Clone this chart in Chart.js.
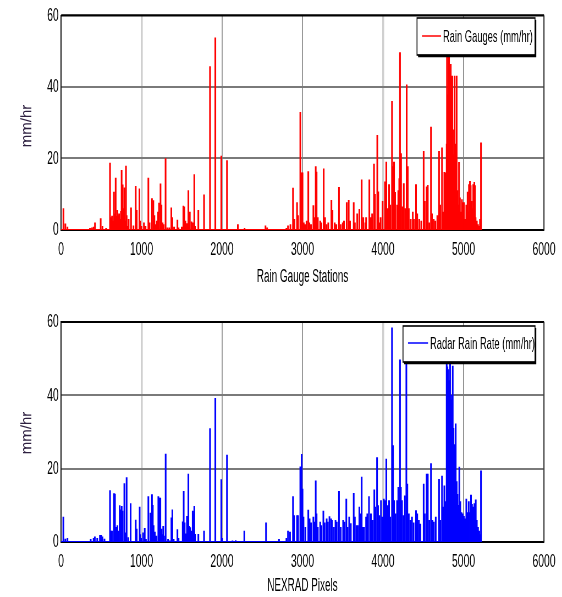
<!DOCTYPE html>
<html>
<head>
<meta charset="utf-8">
<script src="https://cdn.jsdelivr.net/npm/chart.js@4"></script>
<style>
  body { margin: 0; background: #fff; width: 562px; height: 597px; overflow: hidden; position: relative; }
  canvas { position: absolute; left: 0; }
</style>
</head>
<body>
<!-- canvases are drawn wide and squeezed by CSS, like the narrow text of the original figure -->
<canvas id="gaugeChart" width="1022" height="297" style="top:0px;width:562px;height:297px"></canvas>
<canvas id="radarChart" width="1022" height="300" style="top:297px;width:562px;height:300px"></canvas>
<script>
// ---- data ----
var xTicks = [0, 1000, 2000, 3000, 4000, 5000, 6000];
var yTicks = [0, 20, 40, 60];

// gauge record runs from station 0 to about 5230 (flat at zero between spikes)
var gaugeSpan = [0, 5230];
var gaugeStations = [
  30, 54, 80, 360, 385, 405, 422, 493, 515, 560,
  609, 625, 634, 645, 658, 668, 679, 690, 700, 712,
  722, 735, 745, 753, 766, 777, 787, 797, 807, 815,
  826, 840, 870, 900, 928, 940, 974, 985, 1000, 1030,
  1050, 1085, 1100, 1130, 1147, 1160, 1175, 1190, 1206, 1218,
  1236, 1248, 1262, 1275, 1299, 1320, 1345, 1370, 1383, 1405,
  1446, 1460, 1500, 1520, 1532, 1545, 1562, 1582, 1590, 1600,
  1620, 1636, 1656, 1665, 1706, 1777, 1851, 1917, 1991, 2062,
  2197, 2280, 2540, 2560, 2800, 2820, 2850, 2882, 2900, 2932,
  2945, 2973, 2990, 3000, 3015, 3030, 3050, 3072, 3085, 3105,
  3135, 3150, 3164, 3175, 3190, 3220, 3235, 3263, 3280, 3300,
  3320, 3359, 3372, 3400, 3420, 3453, 3475, 3500, 3515, 3549,
  3574, 3590, 3636, 3650, 3680, 3706, 3735, 3755, 3780, 3790,
  3830, 3850, 3865, 3888, 3900, 3929, 3941, 3955, 3970, 3995,
  4025, 4041, 4055, 4075, 4090, 4112, 4124, 4137, 4150, 4175,
  4190, 4202, 4211, 4224, 4240, 4258, 4275, 4294, 4307, 4320,
  4345, 4370, 4385, 4410, 4425, 4450, 4475, 4505, 4518, 4542,
  4556, 4575, 4596, 4608, 4630, 4650, 4675, 4696, 4710, 4733,
  4750, 4762, 4775, 4791, 4795, 4808, 4815, 4820, 4830, 4841,
  4850, 4861, 4870, 4878, 4890, 4895, 4903, 4915, 4925, 4935,
  4944, 4955, 4968, 4980, 4990, 5006, 5020, 5035, 5051, 5060,
  5068, 5080, 5089, 5100, 5110, 5121, 5134, 5143, 5150, 5165,
  5180, 5195, 5205, 5217
];
var gaugeRates = [
  6.0, 1.7, 0.8, 0.5, 0.6, 0.8, 2.0, 3.2, 1.0, 0.5,
  18.7, 3.5, 3.9, 2.5, 10.6, 4.5, 14.5, 3.8, 5.5, 4.0,
  4.5, 3.0, 5.2, 16.7, 12.6, 6.0, 11.8, 2.5, 17.9, 4.0,
  1.0, 3.0, 6.2, 1.2, 12.2, 5.5, 11.5, 2.5, 1.0, 2.0,
  1.0, 14.5, 2.0, 8.8, 8.2, 4.0, 1.5, 2.5, 5.0, 7.5,
  12.9, 7.0, 2.0, 1.5, 20.0, 0.6, 0.6, 6.2, 3.5, 0.8,
  2.8, 0.6, 0.8, 6.7, 6.5, 2.5, 1.8, 11.0, 4.5, 5.0,
  2.3, 2.0, 15.5, 1.0, 5.5, 9.8, 45.7, 53.7, 20.7, 19.4,
  1.5, 0.5, 1.2, 0.6, 0.5, 1.2, 1.5, 11.7, 3.0, 7.7,
  4.0, 32.9, 16.0, 16.0, 2.0, 1.5, 2.5, 16.3, 2.0, 1.5,
  6.8, 3.5, 17.7, 16.2, 3.5, 2.5, 2.0, 17.1, 3.5, 1.5,
  2.0, 8.3, 5.5, 2.0, 1.5, 11.9, 1.5, 2.0, 2.5, 7.7,
  8.3, 2.5, 7.7, 2.0, 4.5, 5.8, 14.0, 3.5, 2.0, 3.5,
  14.0, 3.5, 4.5, 18.4, 10.0, 26.5, 10.7, 2.0, 3.5, 8.0,
  13.5, 19.0, 6.0, 12.7, 7.0, 36.0, 17.7, 19.0, 10.5, 7.0,
  11.0, 14.4, 49.6, 21.4, 6.5, 13.0, 6.0, 40.6, 17.7, 6.0,
  3.0, 5.0, 3.0, 12.7, 4.5, 3.0, 2.5, 22.0, 8.0, 12.1,
  12.5, 2.0, 28.8, 4.5, 3.0, 2.5, 4.0, 22.0, 7.0, 23.0,
  5.0, 16.1, 16.0, 24.0, 52.0, 37.8, 56.0, 50.0, 43.4, 46.3,
  35.5, 43.0, 28.0, 21.0, 43.0, 24.0, 16.0, 43.0, 11.0, 7.0,
  18.9, 9.0, 5.0, 8.5, 7.7, 7.7, 3.0, 7.0, 10.6, 5.0,
  12.7, 13.6, 12.4, 8.0, 6.0, 12.7, 13.3, 12.4, 3.5, 2.5,
  1.5, 1.0, 3.0, 24.4
];

var radarSpan = [0, 5230];
var radarPixels = [
  29, 54, 80, 369, 405, 420, 450, 484, 500, 515,
  540, 609, 620, 634, 658, 670, 685, 700, 712, 729,
  741, 754, 766, 787, 800, 815, 835, 865, 928, 940,
  977, 985, 995, 1020, 1040, 1055, 1085, 1110, 1130, 1140,
  1150, 1165, 1185, 1209, 1222, 1234, 1250, 1258, 1270, 1280,
  1300, 1330, 1350, 1371, 1383, 1400, 1446, 1460, 1512, 1524,
  1536, 1550, 1565, 1582, 1592, 1604, 1620, 1636, 1645, 1656,
  1665, 1706, 1777, 1851, 1917, 1991, 2000, 2062, 2130, 2170,
  2277, 2547, 2708, 2800, 2820, 2845, 2882, 2895, 2932, 2945,
  2973, 2990, 3000, 3012, 3035, 3072, 3088, 3105, 3135, 3150,
  3164, 3175, 3190, 3220, 3235, 3259, 3275, 3300, 3315, 3335,
  3355, 3365, 3390, 3410, 3425, 3453, 3475, 3505, 3520, 3544,
  3560, 3580, 3600, 3636, 3650, 3670, 3685, 3706, 3720, 3735,
  3750, 3765, 3790, 3805, 3826, 3850, 3870, 3892, 3905, 3926,
  3938, 3955, 3975, 3995, 4010, 4025, 4041, 4055, 4075, 4090,
  4112, 4124, 4137, 4155, 4175, 4190, 4211, 4222, 4236, 4255,
  4272, 4290, 4302, 4320, 4340, 4360, 4380, 4410, 4425, 4445,
  4465, 4505, 4518, 4542, 4556, 4575, 4596, 4615, 4632, 4655,
  4696, 4712, 4733, 4748, 4762, 4775, 4791, 4800, 4808, 4820,
  4833, 4845, 4855, 4866, 4876, 4886, 4895, 4903, 4915, 4925,
  4935, 4948, 4960, 4975, 4990, 5005, 5020, 5035, 5050, 5065,
  5080, 5093, 5105, 5120, 5135, 5152, 5165, 5180, 5195, 5205,
  5217
];
var radarRates = [
  6.8, 0.8, 1.0, 0.7, 1.0, 1.4, 1.0, 1.8, 1.8, 1.4,
  0.8, 14.0, 3.0, 3.0, 13.2, 13.1, 4.0, 4.5, 3.0, 9.9,
  8.8, 9.7, 8.4, 15.9, 2.5, 17.6, 1.2, 10.5, 6.0, 3.5,
  9.5, 2.0, 1.0, 2.5, 3.7, 0.7, 12.4, 7.9, 12.9, 10.0,
  4.5, 2.7, 1.6, 12.4, 12.0, 12.0, 3.5, 2.0, 4.3, 1.6,
  24.0, 0.7, 0.3, 6.6, 8.8, 0.7, 3.4, 1.0, 5.5, 13.8,
  5.2, 2.2, 7.0, 18.5, 4.3, 3.9, 3.0, 8.4, 7.5, 9.7,
  2.1, 2.1, 3.0, 30.9, 39.2, 17.0, 1.0, 23.7, 0.3, 0.4,
  3.0, 5.2, 0.7, 1.0, 3.0, 2.7, 12.4, 7.2, 7.2, 7.2,
  20.5, 23.9, 14.4, 6.8, 4.0, 8.7, 6.3, 5.2, 6.8, 5.4,
  16.7, 7.7, 4.0, 5.4, 4.5, 8.4, 5.2, 6.3, 5.4, 6.9,
  6.3, 5.9, 4.0, 5.9, 5.4, 13.8, 4.0, 5.9, 5.4, 11.7,
  4.0, 6.8, 5.0, 13.3, 6.8, 4.5, 4.5, 9.5, 7.7, 17.7,
  4.0, 4.0, 6.8, 7.7, 12.4, 7.7, 5.9, 14.2, 9.5, 23.0,
  9.9, 7.2, 11.3, 6.8, 11.7, 11.3, 22.6, 9.9, 11.3, 6.8,
  58.4, 26.3, 11.3, 7.7, 11.3, 14.9, 49.7, 14.9, 11.3, 7.2,
  12.6, 52.0, 15.8, 7.7, 5.9, 6.8, 5.2, 8.6, 7.7, 5.9,
  4.9, 15.8, 7.7, 18.5, 18.5, 5.9, 21.4, 5.9, 5.4, 6.8,
  17.1, 5.9, 18.0, 9.5, 15.3, 11.0, 51.0, 47.8, 47.0, 44.0,
  50.0, 38.8, 40.0, 48.0, 31.0, 24.0, 26.6, 32.2, 16.5, 13.0,
  10.0, 20.4, 11.0, 8.0, 7.7, 7.0, 6.3, 11.7, 8.0, 11.0,
  8.0, 12.8, 10.3, 9.5, 10.5, 11.5, 5.9, 4.0, 3.0, 2.0,
  19.4
];

// ---- drawing ----
var S = 562 / 1022;   // CSS squeeze of the canvas width
var FONT = '"Liberation Sans", Arial, sans-serif';
Chart.defaults.font.family = FONT;

function toPoints(xs, ys) {
  return xs.map(function (x, i) { return { x: x, y: ys[i] }; });
}

// frame, in-plot legend box and the (unsqueezed) y title
var framePlugin = {
  id: 'frame',
  afterDraw: function (chart, args, o) {
    var ctx = chart.ctx, a = chart.chartArea;
    ctx.save();
    ctx.strokeStyle = '#000';
    ctx.lineWidth = 2;
    ctx.beginPath();
    ctx.moveTo(a.left, a.top); ctx.lineTo(a.right, a.top);
    ctx.stroke();
    ctx.strokeStyle = '#222';
    ctx.lineWidth = 1.8;
    ctx.beginPath();
    ctx.moveTo(a.right, a.top); ctx.lineTo(a.right, a.bottom);
    ctx.stroke();

    // legend
    var L = o.box[0] / S, T = o.box[1], R = o.box[2] / S, B = o.box[3];
    ctx.fillStyle = '#fff';
    ctx.fillRect(L, T, R - L, B - T);
    ctx.strokeStyle = '#000';
    ctx.lineWidth = 1.6;
    ctx.strokeRect(L, T, R - L, B - T);
    ctx.lineWidth = 2.6;
    ctx.beginPath();
    ctx.moveTo(R + 1, T + 2); ctx.lineTo(R + 1, B + 1); ctx.lineTo(L + 2, B + 1);
    ctx.stroke();
    ctx.strokeStyle = o.color;
    ctx.lineWidth = 1.5;
    ctx.beginPath();
    ctx.moveTo(o.sample[0] / S, o.sample[2]); ctx.lineTo(o.sample[1] / S, o.sample[2]);
    ctx.stroke();
    ctx.fillStyle = '#000';
    ctx.font = '17px ' + FONT;
    ctx.textBaseline = 'middle';
    ctx.textAlign = 'left';
    ctx.fillText(o.text, o.textX / S, o.sample[2] + 1);

    // y axis title, kept at normal proportions
    ctx.translate(o.titleX / S, o.titleY);
    ctx.scale(1 / S, 1);
    ctx.rotate(-Math.PI / 2);
    ctx.fillStyle = '#2e2040';
    ctx.font = '15px ' + FONT;
    ctx.textAlign = 'center';
    ctx.fillText('mm/hr', 0, 0);
    ctx.restore();
  }
};

function makeChart(id, xs, ys, span, color, label, xTitle, lay) {
  return new Chart(document.getElementById(id), {
    type: 'bar',
    data: {
      datasets: [{
        data: toPoints(xs, ys),
        backgroundColor: color,
        borderWidth: 0,
        barThickness: 2.4
      }, {
        type: 'line',
        data: toPoints(span, [0, 0]),
        borderColor: color,
        borderWidth: 2,
        pointRadius: 0
      }]
    },
    options: {
      responsive: false,
      devicePixelRatio: 1,
      animation: false,
      events: [],
      layout: { padding: { left: 0, top: lay.top, right: 1022 - 544 / S, bottom: 0 } },
      plugins: {
        legend: { display: false },
        tooltip: { enabled: false },
        frame: {
          box: lay.box, sample: lay.sample, textX: lay.textX, text: label, color: color,
          titleX: 27, titleY: lay.titleY
        }
      },
      scales: {
        x: {
          type: 'linear',
          min: 0, max: 6000,
          offset: false,
          afterBuildTicks: function (s) { s.ticks = xTicks.map(function (v) { return { value: v }; }); },
          afterFit: function (s) { s.height = lay.xHeight; },
          grid: {
            offset: false,
            drawTicks: false,
            color: function (c) { return (c.tick && (c.tick.value === 1000 || c.tick.value === 4000)) ? '#d0d0d0' : '#8c8c8c'; },
            lineWidth: function (c) { return (c.tick && (c.tick.value === 1000 || c.tick.value === 4000)) ? 3.6 : 1.8; }
          },
          border: { color: '#000', width: 2 },
          ticks: {
            color: '#000', font: { size: 19 }, padding: 8, maxRotation: 0, autoSkip: false,
            callback: function (v) { return String(v); }
          },
          title: { display: true, text: xTitle, color: '#000', font: { size: 18 }, padding: { top: 0, bottom: lay.titlePad } }
        },
        y: {
          min: 0, max: 60,
          afterBuildTicks: function (s) { s.ticks = yTicks.map(function (v) { return { value: v }; }); },
          afterFit: function (s) { s.width = 61 / S; },
          grid: { drawTicks: false, color: '#7a7a7a', lineWidth: 2 },
          border: { color: '#000', width: 1.8 },
          ticks: { color: '#000', font: { size: 19 }, padding: 4 }
        }
      }
    },
    plugins: [framePlugin]
  });
}

makeChart('gaugeChart', gaugeStations, gaugeRates, gaugeSpan, '#ff0000',
  'Rain Gauges (mm/hr)', 'Rain Gauge Stations',
  { top: 14, xHeight: 67, titlePad: 9, titleY: 126,
    box: [417, 18, 535, 55], sample: [422, 441, 36], textX: 443 });

makeChart('radarChart', radarPixels, radarRates, radarSpan, '#0000ff',
  'Radar Rain Rate (mm/hr)', 'NEXRAD Pixels',
  { top: 25, xHeight: 55, titlePad: 0, titleY: 136,
    box: [403, 29, 535, 65], sample: [408, 428, 46], textX: 430 });
</script>
</body>
</html>
